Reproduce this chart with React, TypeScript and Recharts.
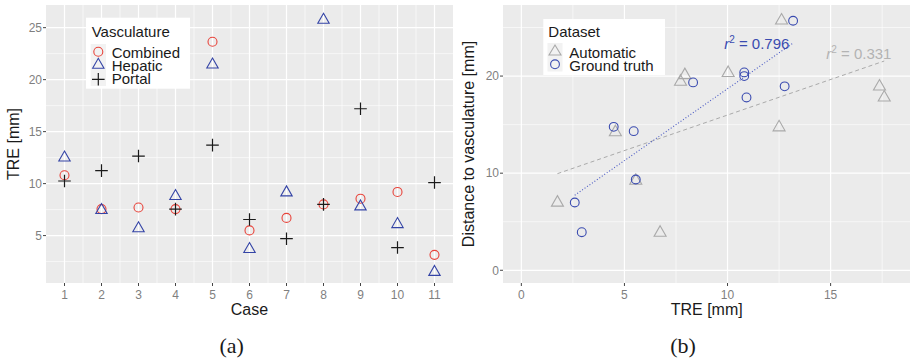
import { ScatterChart, Scatter, XAxis, YAxis, CartesianGrid } from 'recharts'

// (a) TRE per case
const cases = [1, 2, 3, 4, 5, 6, 7, 8, 9, 10, 11]
const combined = [10.8, 7.55, 7.7, 7.55, 23.65, 5.5, 6.7, 8.0, 8.55, 9.2, 3.15]
const hepatic = [12.65, 7.6, 5.85, 8.95, 21.6, 3.85, 9.3, 25.9, 7.95, 6.25, 1.65]
const portal = [10.25, 11.25, 12.65, 7.55, 13.7, 6.55, 4.7, 8.0, 17.2, 3.85, 10.1]
const yTicksA = [5, 10, 15, 20, 25]
const yMinorA = [2.5, 7.5, 12.5, 17.5, 22.5]
const xMinorA = [1.5, 2.5, 3.5, 4.5, 5.5, 6.5, 7.5, 8.5, 9.5, 10.5]

// (b) TRE vs distance to vasculature
const autoTre = [1.75, 4.56, 5.55, 6.73, 7.72, 7.93, 10.03, 12.5, 12.62, 17.37, 17.6]
const autoDist = [7.15, 14.4, 9.4, 4.05, 19.6, 20.28, 20.5, 14.9, 25.9, 19.1, 17.97]
const gtTre = [2.59, 2.93, 4.48, 5.45, 5.55, 8.33, 10.81, 10.81, 10.92, 12.77, 13.18]
const gtDist = [6.98, 3.92, 14.77, 14.33, 9.35, 19.35, 20.38, 20.0, 17.8, 18.94, 25.7]
const autoFitX = [1.75, 17.6]
const autoFitY = [9.95, 21.55]
const gtFitX = [2.59, 13.18]
const gtFitY = [7.73, 23.4]
const r2Labels = [
  { x: 11.42, y: 22.78, value: '0.796', color: '#3a4bb0' },
  { x: 16.37, y: 21.72, value: '0.331', color: '#b3b3b3' },
]
const xTicksB = [0, 5, 10, 15]
const xMinorB = [2.5, 7.5, 12.5, 17.5]
const yTicksB = [0, 10, 20]
const yMinorB = [5, 15, 25]

const RED = '#e8433a'
const BLUE = '#3444a6'
const GT_BLUE = '#3a4bb0'
const GREY = '#a9a9a9'
const FONT = '"Liberation Sans", Arial, sans-serif'

const zip = (xs: number[], ys: number[]) => xs.map((x, i) => ({ x, y: ys[i] }))

const tickStyle = { fontSize: 12, fill: '#7f7f7f', fontFamily: FONT }

const circle = (color: string, r = 4.5) => (p: any) => (
  <circle cx={p.cx} cy={p.cy} r={r} fill="none" stroke={color} strokeWidth={1.1} />
)
const triangle = (color: string, w = 5.7, h = 10) => (p: any) => (
  <path
    d={`M${p.cx},${p.cy - h / 2}L${p.cx + w},${p.cy + h / 2}L${p.cx - w},${p.cy + h / 2}Z`}
    fill="none" stroke={color} strokeWidth={1.1}
  />
)
const plus = (color: string, a = 6.3) => (p: any) => (
  <path d={`M${p.cx - a},${p.cy}H${p.cx + a}M${p.cx},${p.cy - a}V${p.cy + a}`} stroke={color} strokeWidth={1.2} />
)
const noShape = () => <g />

const r2Shape = (p: any) => (
  <text x={p.cx} y={p.cy} textAnchor="middle" fontFamily={FONT} fontSize={15} fill={p.payload.color}>
    <tspan fontStyle="italic">r</tspan>
    <tspan dy={-6} fontSize={10}>2</tspan>
    <tspan dy={6}>{` = ${p.payload.value}`}</tspan>
  </text>
)

export default function App() {
  return (
    <div style={{ position: 'absolute', left: 0, top: 0, width: 911, height: 359, background: '#fff' }}>
      <div style={{ position: 'absolute', left: 0, top: 0 }}>
        <ScatterChart width={460} height={359} margin={{ top: 5, right: 7, bottom: 0, left: 0 }}>
          <CartesianGrid fill="#ebebeb" stroke="#fff" strokeWidth={0.6} horizontalValues={yMinorA} verticalValues={xMinorA} />
          <CartesianGrid stroke="#fff" strokeWidth={1.2} horizontalValues={yTicksA} verticalValues={cases} />
          <XAxis type="number" dataKey="x" domain={[0.5, 11.5]} ticks={cases} interval={0} allowDataOverflow
            height={76} tickSize={3} tickMargin={4} axisLine={false} tickLine={{ stroke: '#444' }} tick={tickStyle} />
          <YAxis type="number" dataKey="y" domain={[0.44, 27.18]} ticks={yTicksA} interval={0} allowDataOverflow
            width={46} tickSize={3} tickMargin={1} axisLine={false} tickLine={{ stroke: '#444' }} tick={tickStyle} />
          <Scatter data={zip(cases, combined)} shape={circle(RED)} isAnimationActive={false} />
          <Scatter data={zip(cases, hepatic)} shape={triangle(BLUE)} isAnimationActive={false} />
          <Scatter data={zip(cases, portal)} shape={plus('#1a1a1a')} isAnimationActive={false} />
        </ScatterChart>
      </div>
      <div style={{ position: 'absolute', left: 455, top: 0 }}>
        <ScatterChart width={456} height={359} margin={{ top: 5, right: 1, bottom: 0, left: 0 }}>
          <CartesianGrid fill="#ebebeb" stroke="#fff" strokeWidth={0.6} horizontalValues={yMinorB} verticalValues={xMinorB} />
          <CartesianGrid stroke="#fff" strokeWidth={1.2} horizontalValues={yTicksB} verticalValues={xTicksB} />
          <XAxis type="number" dataKey="x" domain={[-0.89, 18.85]} ticks={xTicksB} interval={0} allowDataOverflow
            height={76} tickSize={3} tickMargin={4} axisLine={false} tickLine={{ stroke: '#444' }} tick={tickStyle} />
          <YAxis type="number" dataKey="y" domain={[-1.31, 27.32]} ticks={yTicksB} interval={0} allowDataOverflow
            width={48} tickSize={3} tickMargin={1} axisLine={false} tickLine={{ stroke: '#444' }} tick={tickStyle} />
          <Scatter data={zip(autoFitX, autoFitY)} shape={noShape} line={{ stroke: '#aaaaaa', strokeWidth: 1, strokeDasharray: '4 3' }} isAnimationActive={false} />
          <Scatter data={zip(gtFitX, gtFitY)} shape={noShape} line={{ stroke: '#4a5ac4', strokeWidth: 1.1, strokeDasharray: '1 2' }} isAnimationActive={false} />
          <Scatter data={zip(autoTre, autoDist)} shape={triangle(GREY, 6, 10.5)} isAnimationActive={false} />
          <Scatter data={zip(gtTre, gtDist)} shape={circle(GT_BLUE, 4.4)} isAnimationActive={false} />
          <Scatter data={r2Labels} shape={r2Shape} isAnimationActive={false} />
        </ScatterChart>
      </div>
      <svg width={911} height={359} style={{ position: 'absolute', left: 0, top: 0, pointerEvents: 'none' }}
        fontFamily={FONT}>
        {/* legend (a) */}
        <rect x={86} y={17.7} width={104} height={71} fill="#fff" />
        <rect x={90.7} y={44} width={15.3} height={42} fill="#f2f2f2" />
        <text x={91.7} y={36.7} fontSize={15} fill="#1a1a1a">Vasculature</text>
        <circle cx={98.3} cy={51.7} r={4.5} fill="none" stroke={RED} strokeWidth={1.1} />
        <path d="M92.6,68.3L98.3,58.3L104,68.3Z" fill="none" stroke={BLUE} strokeWidth={1.1} />
        <path d="M92,79.3H104.6M98.3,73V85.6" stroke="#1a1a1a" strokeWidth={1.2} />
        <text x={111.7} y={58.3} fontSize={15} fill="#1a1a1a">Combined</text>
        <text x={111.7} y={70.8} fontSize={15} fill="#1a1a1a">Hepatic</text>
        <text x={111.7} y={84.3} fontSize={15} fill="#1a1a1a">Portal</text>
        {/* legend (b) */}
        <rect x={543.3} y={19} width={121.7} height={56} fill="#fff" />
        <rect x={547.5} y={43} width={15} height={28.5} fill="#f2f2f2" />
        <text x={548.3} y={36.7} fontSize={15} fill="#1a1a1a">Dataset</text>
        <path d="M549,55L555,45L561,55Z" fill="none" stroke={GREY} strokeWidth={1.1} />
        <circle cx={555} cy={64.3} r={4.4} fill="none" stroke={GT_BLUE} strokeWidth={1.1} />
        <text x={569.3} y={57.7} fontSize={15} fill="#1a1a1a">Automatic</text>
        <text x={569.3} y={70.7} fontSize={15} fill="#1a1a1a">Ground truth</text>
        {/* axis titles */}
        <text transform="translate(19,144) rotate(-90)" textAnchor="middle" fontSize={16} fill="#1a1a1a">TRE [mm]</text>
        <text x={249.5} y={314.5} textAnchor="middle" fontSize={16} fill="#1a1a1a">Case</text>
        <text transform="translate(474,144) rotate(-90)" textAnchor="middle" fontSize={16} fill="#1a1a1a">Distance to vasculature [mm]</text>
        <text x={706.7} y={314.5} textAnchor="middle" fontSize={16} fill="#1a1a1a">TRE [mm]</text>
        {/* captions */}
        <text x={231.7} y={353} textAnchor="middle" fontSize={22} fontFamily='"Liberation Serif", serif' fill="#1a1a1a">(a)</text>
        <text x={683} y={353} textAnchor="middle" fontSize={22} fontFamily='"Liberation Serif", serif' fill="#1a1a1a">(b)</text>
      </svg>
    </div>
  )
}
